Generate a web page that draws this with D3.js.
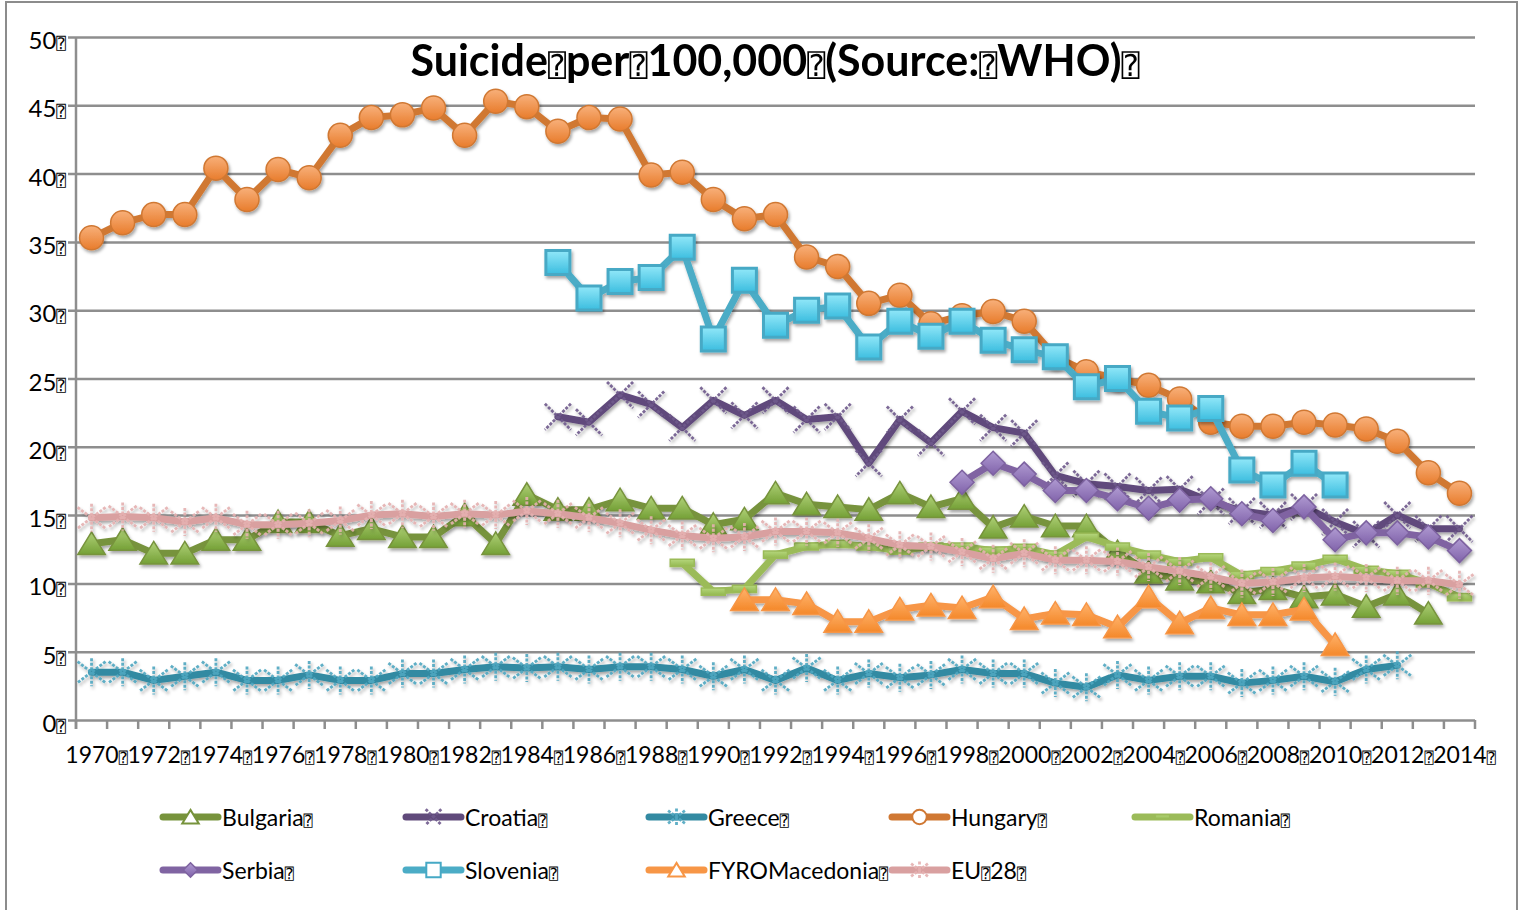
<!DOCTYPE html>
<html>
<head>
<meta charset="utf-8">
<script src="https://cdn.jsdelivr.net/npm/d3@7"></script>
<style>
  html, body { margin: 0; padding: 0; background: #fff; }
  svg { display: block; }
  text { font-family: Lato, "Open Sans", sans-serif; fill: #000; }
  .box { font-family: "DejaVu Sans Mono", "DejaVu Sans", monospace; }
</style>
</head>
<body>
<div id="chart"></div>
<script>
// Suicide per 100,000 (WHO data)
const width = 1519;
const height = 910;

const years = [1970, 1971, 1972, 1973, 1974, 1975, 1976, 1977, 1978, 1979,
               1980, 1981, 1982, 1983, 1984, 1985, 1986, 1987, 1988, 1989,
               1990, 1991, 1992, 1993, 1994, 1995, 1996, 1997, 1998, 1999,
               2000, 2001, 2002, 2003, 2004, 2005, 2006, 2007, 2008, 2009,
               2010, 2011, 2012, 2013, 2014];
const yTicks = [0, 5, 10, 15, 20, 25, 30, 35, 40, 45, 50];

const _ = null;
const bulgaria = [12.9, 13.2, 12.2, 12.2, 13.2, 13.2, 14.5, 14.5, 13.5, 14.0,
                  13.4, 13.4, 15.0, 12.9, 16.5, 15.4, 15.4, 16.1, 15.5, 15.5,
                  14.3, 14.7, 16.6, 15.8, 15.6, 15.4, 16.6, 15.6, 16.2, 14.1,
                  14.9, 14.2, 14.2, 12.3, 10.8, 10.3, 10.1, 9.3, 9.6, 9.0,
                  9.2, 8.3, 9.2, 7.8, _];
const croatia = [_, _, _, _, _, _, _, _, _, _,
                 _, _, _, _, _, 22.2, 21.8, 23.8, 23.1, 21.4,
                 23.4, 22.3, 23.4, 22.0, 22.2, 18.8, 22.0, 20.3, 22.6, 21.4,
                 21.0, 17.9, 17.3, 17.1, 16.8, 16.9, 16.0, 15.3, 15.0, 15.6,
                 14.5, 13.6, 15.0, 14.0, 14.0];
const greece = [3.5, 3.5, 2.9, 3.2, 3.5, 2.9, 2.9, 3.3, 2.9, 2.9,
                3.4, 3.4, 3.7, 3.9, 3.8, 3.9, 3.7, 3.9, 3.9, 3.7,
                3.2, 3.7, 2.9, 3.8, 2.9, 3.4, 3.1, 3.3, 3.7, 3.4,
                3.4, 2.7, 2.4, 3.3, 2.9, 3.2, 3.2, 2.7, 2.9, 3.2,
                2.8, 3.7, 4.0, _, _];
const hungary = [35.3, 36.4, 37.0, 37.0, 40.4, 38.1, 40.3, 39.7, 42.8, 44.1,
                 44.3, 44.8, 42.8, 45.3, 44.9, 43.1, 44.1, 44.0, 39.9, 40.1,
                 38.1, 36.7, 37.0, 33.9, 33.2, 30.5, 31.1, 29.0, 29.6, 29.9,
                 29.2, 26.6, 25.5, 25.0, 24.5, 23.5, 21.8, 21.5, 21.5, 21.8,
                 21.6, 21.3, 20.4, 18.1, 16.6];
const romania = [_, _, _, _, _, _, _, _, _, _,
                 _, _, _, _, _, _, _, _, _, 11.5,
                 9.4, 9.6, 12.1, 12.7, 12.9, 12.7, 12.4, 12.7, 12.7, 12.4,
                 12.6, 12.1, 13.4, 12.7, 12.1, 11.6, 11.9, 10.6, 10.9, 11.3,
                 11.8, 11.0, 10.7, 10.0, 9.0];
const serbia = [_, _, _, _, _, _, _, _, _, _,
                _, _, _, _, _, _, _, _, _, _,
                _, _, _, _, _, _, _, _, 17.4, 18.8,
                18.0, 16.8, 16.8, 16.2, 15.5, 16.1, 16.2, 15.1, 14.6, 15.6,
                13.2, 13.7, 13.7, 13.4, 12.4];
const slovenia = [_, _, _, _, _, _, _, _, _, _,
                  _, _, _, _, _, 33.5, 30.9, 32.1, 32.4, 34.6,
                  27.9, 32.2, 28.9, 30.0, 30.3, 27.3, 29.2, 28.1, 29.2, 27.8,
                  27.1, 26.6, 24.4, 25.0, 22.6, 22.1, 22.8, 18.3, 17.2, 18.8,
                  17.2, _, _, _, _];
const macedonia = [_, _, _, _, _, _, _, _, _, _,
                   _, _, _, _, _, _, _, _, _, _,
                   _, 8.8, 8.8, 8.5, 7.2, 7.2, 8.1, 8.4, 8.2, 9.0,
                   7.4, 7.8, 7.7, 6.8, 9.0, 7.1, 8.2, 7.7, 7.7, 8.1,
                   5.5, _, _, _, _];
const eu28 = [14.8, 14.9, 14.8, 14.5, 14.8, 14.3, 14.3, 14.4, 14.6, 15.0,
              15.1, 14.9, 15.1, 15.0, 15.3, 15.1, 14.8, 14.4, 13.9, 13.5,
              13.3, 13.4, 13.8, 13.8, 13.7, 13.3, 12.8, 12.7, 12.3, 11.8,
              12.2, 11.7, 11.7, 11.6, 11.2, 10.9, 10.5, 10.0, 10.1, 10.4,
              10.5, 10.4, 10.2, 10.2, 9.9];

const names = ["Bulgaria⍰", "Croatia⍰", "Greece⍰", "Hungary⍰", "Romania⍰",
               "Serbia⍰", "Slovenia⍰", "FYROMacedonia⍰", "EU⍰28⍰"];
const titleText = "Suicide⍰per⍰100,000⍰(Source:⍰WHO)⍰";

// series styling, same order as names
const series = [
  {values: bulgaria,  line: "#77933c", marker: "triangle", fill: ["#b0d178", "#74a036"], edge: "#77933c"},
  {values: croatia,   line: "#604a7b", marker: "x",        fill: null, edge: "#6f5a8c"},
  {values: greece,    line: "#338aa2", marker: "star",     fill: null, edge: "#4fa6c0"},
  {values: hungary,   line: "#d07833", marker: "circle",   fill: ["#f8b07a", "#e87c2c"], edge: "#d07833"},
  {values: romania,   line: "#9bbb59", marker: "dash",     fill: ["#b5d67c", "#93b84f"], edge: "#9bbb59"},
  {values: serbia,    line: "#8064a2", marker: "diamond",  fill: ["#b09bd2", "#8062aa"], edge: "#7d62a0"},
  {values: slovenia,  line: "#4bacc6", marker: "square",   fill: ["#92e8f9", "#3bbddf"], edge: "#46a9c5"},
  {values: macedonia, line: "#f79646", marker: "triangle", fill: ["#ffb36c", "#f4882a"], edge: "#f79646"},
  {values: eu28,      line: "#d9a0a0", marker: "star",     fill: null, edge: "#e4b0b0"}
];

const margin = {left: 76, right: 44, top: 37, bottom: 190};

const x = d3.scaleBand().domain(years).range([margin.left, width - margin.right]);
const y = d3.scaleLinear().domain([0, 50]).range([height - margin.bottom, margin.top]);
const cx = yr => x(yr) + x.bandwidth() / 2;

const svg = d3.select("#chart").append("svg")
    .attr("width", width)
    .attr("height", height);

const defs = svg.append("defs");
const shadow = defs.append("filter").attr("id", "shadow")
    .attr("x", "-20%").attr("y", "-20%").attr("width", "140%").attr("height", "140%");
shadow.append("feDropShadow")
    .attr("dx", 1.5).attr("dy", 2.5).attr("stdDeviation", 1.6)
    .attr("flood-color", "#000").attr("flood-opacity", 0.35);

series.forEach((s, i) => {
  if (!s.fill) return;
  const g = defs.append("linearGradient").attr("id", "grad" + i)
      .attr("x1", 0).attr("y1", 0).attr("x2", 0).attr("y2", 1);
  g.append("stop").attr("offset", "0%").attr("stop-color", s.fill[0]);
  g.append("stop").attr("offset", "100%").attr("stop-color", s.fill[1]);
});

// text with the little "missing glyph" boxes of the original
function boxText(sel, str, boxSize, pull) {
  const parts = str.split("⍰");
  parts.forEach((p, i) => {
    if (p) sel.append("tspan").attr("dx", i > 0 && pull ? -pull : null).text(p);
    if (i < parts.length - 1) {
      sel.append("tspan").attr("class", "box").style("font-size", boxSize + "px").style("font-weight", "normal").text("⍰");
    }
  });
  return sel;
}

// outer frame
svg.append("rect")
    .attr("x", 6).attr("y", 2).attr("width", width - 8).attr("height", height + 10)
    .attr("fill", "none").attr("stroke", "#8c8c8c").attr("stroke-width", 2);

// gridlines + y axis
const yAxis = svg.append("g")
    .attr("transform", `translate(${margin.left},0)`)
    .call(d3.axisLeft(y).tickValues(yTicks).tickSize(0).tickFormat(""));
yAxis.select(".domain").remove();
yAxis.selectAll(".tick line").remove();
yAxis.selectAll(".tick").append("line")
    .attr("x1", -8).attr("x2", width - margin.right - margin.left)
    .attr("stroke", "#8e8e8e").attr("stroke-width", 2.5);
yAxis.selectAll(".tick text").remove();
yAxis.selectAll(".tick").each(function(d) {
  const t = d3.select(this).append("text")
      .attr("x", -10).attr("y", 11.5)
      .attr("text-anchor", "end")
      .style("font-size", "24px");
  boxText(t, d + "⍰", 16, 0);
});

svg.append("line")
    .attr("x1", margin.left).attr("x2", margin.left)
    .attr("y1", y(50)).attr("y2", y(0) + 9)
    .attr("stroke", "#8e8e8e").attr("stroke-width", 2.5);

// x axis: ticks between categories, labels on every other year
const xAxis = svg.append("g").attr("transform", `translate(0,${y(0)})`);
xAxis.selectAll("line.tk")
  .data(years.concat([null]))
  .join("line")
    .attr("class", "tk")
    .attr("x1", d => d === null ? x.range()[1] : x(d))
    .attr("x2", d => d === null ? x.range()[1] : x(d))
    .attr("y1", 0).attr("y2", 9)
    .attr("stroke", "#8e8e8e").attr("stroke-width", 2.5);
xAxis.selectAll("text.lbl")
  .data(years.filter(d => d % 2 === 0))
  .join("text")
    .attr("class", "lbl")
    .attr("x", d => cx(d) + 5)
    .attr("y", 43)
    .attr("text-anchor", "middle")
    .style("font-size", "23px")
    .each(function(d) { boxText(d3.select(this), d + "⍰", 15, 0); });

// markers
function markerPath(type, r) {
  const p = d3.path();
  switch (type) {
    case "triangle":
      p.moveTo(0, -r * 0.95); p.lineTo(r * 1.1, r * 0.85); p.lineTo(-r * 1.1, r * 0.85); p.closePath(); break;
    case "diamond":
      p.moveTo(0, -r); p.lineTo(r, 0); p.lineTo(0, r); p.lineTo(-r, 0); p.closePath(); break;
    case "square":
      p.rect(-r, -r, 2 * r, 2 * r); break;
    case "circle":
      p.arc(0, 0, r, 0, 2 * Math.PI); break;
    case "dash":
      p.rect(-r, -r * 0.3, 2 * r, r * 0.6); break;
    case "x":
      p.moveTo(-r, -r); p.lineTo(r, r); p.moveTo(r, -r); p.lineTo(-r, r); break;
    case "star":
      p.moveTo(-r, -r * 0.75); p.lineTo(r, r * 0.75); p.moveTo(r, -r * 0.75); p.lineTo(-r, r * 0.75);
      p.moveTo(0, -r); p.lineTo(0, r); break;
  }
  return p.toString();
}
const markerSize = {triangle: 12.5, diamond: 12, square: 12, circle: 12, dash: 12, x: 13, star: 14};

function drawMarker(g, s, i, r) {
  const path = g.append("path").attr("d", markerPath(s.marker, r));
  if (s.fill) {
    path.attr("fill", `url(#grad${i})`).attr("stroke", s.edge)
        .attr("stroke-width", s.marker === "square" ? 3 : 1.5);
  } else {
    path.attr("fill", "none").attr("stroke", s.edge).attr("stroke-width", 2.8)
        .attr("stroke-dasharray", "3,1.5").attr("opacity", 0.9);
  }
  return path;
}

const line = d3.line()
    .defined(d => d.v !== null)
    .x(d => cx(d.year))
    .y(d => y(d.v));

series.forEach((s, i) => {
  const pts = years.map((yr, k) => ({year: yr, v: s.values[k]}));
  const g = svg.append("g").attr("filter", "url(#shadow)");
  g.append("path")
      .datum(pts)
      .attr("d", line)
      .attr("fill", "none")
      .attr("stroke", s.line)
      .attr("stroke-width", 7)
      .attr("stroke-linejoin", "round")
      .attr("stroke-linecap", "round");
  g.selectAll("g.mk")
    .data(pts.filter(d => d.v !== null))
    .join("g")
      .attr("class", "mk")
      .attr("transform", d => `translate(${cx(d.year)},${y(d.v)})`)
      .each(function() { drawMarker(d3.select(this), s, i, markerSize[s.marker]); });
});

// title
const title = svg.append("text")
    .attr("x", 775).attr("y", 76)
    .attr("text-anchor", "middle")
    .style("font-size", "43px")
    .style("font-weight", "bold");
boxText(title, titleText, 30, 0);

// legend: 5 columns, 2 rows
const legend = svg.append("g");
names.forEach((name, i) => {
  const col = i < 5 ? i : i - 5;
  const row = i < 5 ? 0 : 1;
  const lx = 163 + col * 243;
  const ly = 817 + row * 53;
  const s = series[i];
  const item = legend.append("g").attr("transform", `translate(${lx},${ly})`);
  item.append("line")
      .attr("x1", 0).attr("x2", 55)
      .attr("stroke", s.line).attr("stroke-width", 7).attr("stroke-linecap", "round");
  const m = item.append("g").attr("transform", "translate(27.5,0)");
  const mp = drawMarker(m, s, i, markerSize[s.marker] * 0.6);
  if (s.fill && s.marker !== "dash" && s.marker !== "diamond") mp.attr("fill", "#fff").attr("stroke-width", 2);
  const t = item.append("text")
      .attr("x", 59).attr("y", 8.5)
      .style("font-size", "23px");
  boxText(t, name, 15, 0);
});
</script>
</body>
</html>
